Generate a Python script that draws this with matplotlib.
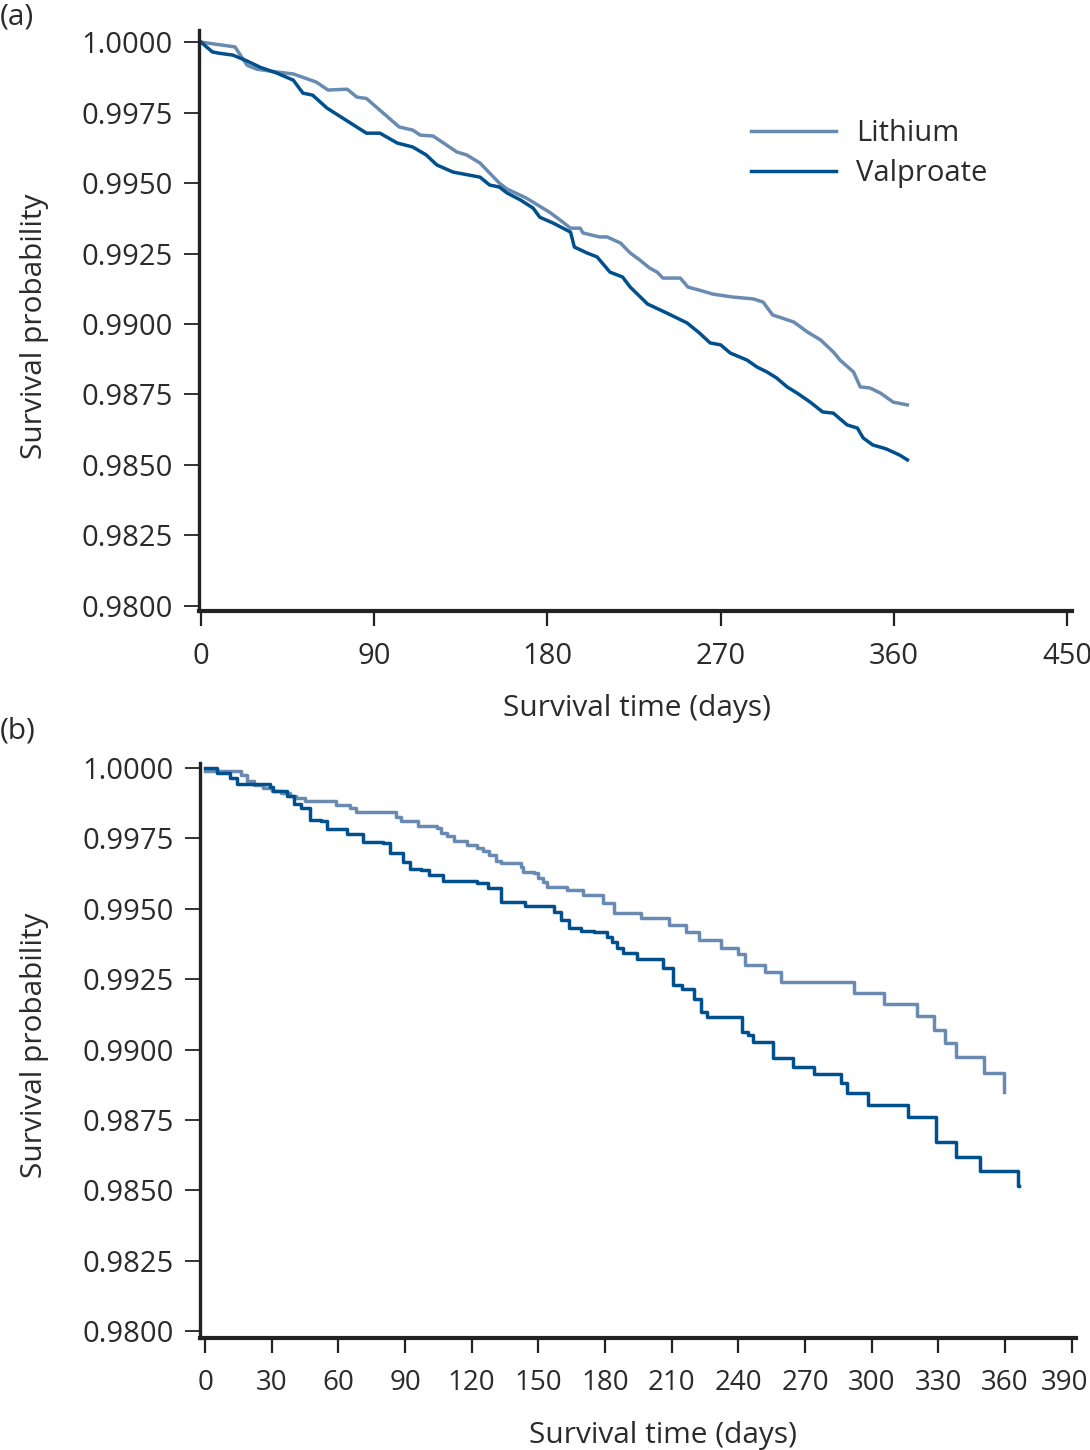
import matplotlib
matplotlib.use("Agg")
import matplotlib.pyplot as plt
import matplotlib.transforms as mtransforms
import numpy as np

# ---------------- data ----------------
# Panel (a)
a_lith_t = [0, 17.7, 24, 29, 39.5, 48, 60, 66, 76, 81, 86, 103, 110, 114, 120.6, 133, 138, 145, 155,
            159, 169, 181, 186.6, 192, 197, 198.5, 207, 211, 218, 223, 228, 233, 237, 240, 249, 253,
            259, 266, 276, 287, 292, 297, 302, 308, 315, 322, 328.5, 332, 339, 342.5, 347.6, 353,
            359.6, 367]
a_lith_s = [1.0, 0.99983, 0.99918, 0.99904, 0.99894, 0.99887, 0.99858, 0.99830, 0.99833, 0.99805,
            0.99800, 0.99699, 0.99688, 0.99670, 0.99667, 0.99610, 0.99600, 0.99571, 0.99500,
            0.99479, 0.99447, 0.99397, 0.99369, 0.99340, 0.99340, 0.99323, 0.99309, 0.99309,
            0.99287, 0.99252, 0.99227, 0.99199, 0.99184, 0.99163, 0.99163, 0.99131, 0.99120,
            0.99106, 0.99096, 0.99089, 0.99078, 0.99032, 0.99021, 0.99007, 0.98972, 0.98943,
            0.98901, 0.98872, 0.98830, 0.98777, 0.98773, 0.98755, 0.98723, 0.98713]

a_valp_t = [0, 6, 10, 16.6, 24, 30.7, 39.5, 48, 53, 58, 65.5, 77, 86, 93, 102, 110, 117, 122.6, 131,
            145, 150, 155, 159, 166, 172.6, 176, 183, 192, 194, 200.6, 205.8, 212.5, 219, 223, 232,
            242, 252.5, 259, 264.5, 270, 275, 283.7, 289, 294, 299, 304.5, 309.7, 316.5, 323,
            328.5, 335.7, 341, 344, 349, 356, 363, 367]
a_valp_s = [1.0, 0.99965, 0.99960, 0.99954, 0.99933, 0.99911, 0.99890, 0.99865, 0.99819, 0.99812,
            0.99766, 0.99716, 0.99677, 0.99677, 0.99642, 0.99628, 0.99600, 0.99564, 0.99539,
            0.99521, 0.99493, 0.99486, 0.99465, 0.99440, 0.99411, 0.99379, 0.99358, 0.99326,
            0.99273, 0.99252, 0.99238, 0.99184, 0.99167, 0.99131, 0.99071, 0.99039, 0.99004,
            0.98968, 0.98933, 0.98926, 0.98897, 0.98872, 0.98847, 0.98830, 0.98809, 0.98777,
            0.98755, 0.98723, 0.98688, 0.98684, 0.98642, 0.98631, 0.98596, 0.98571, 0.98557,
            0.98535, 0.98518]

# Panel (b)
b_lith_t = [0, 16, 19, 22, 26, 30, 34, 38, 41, 45, 59, 65, 68, 86, 88, 96, 104.5, 106, 109, 112,
            118, 122.5, 125, 128, 131, 133, 142, 143, 148, 150, 152, 154, 163, 170, 179, 184,
            196.3, 209, 216.6, 222.5, 232, 240, 243, 252, 259, 292, 305.5, 320.6, 328.3, 333,
            337.8, 350.4, 359.4, 359.7]
b_lith_s = [0.99990, 0.99975, 0.99955, 0.99940, 0.99928, 0.99920, 0.99912, 0.99902, 0.99892,
            0.99883, 0.99868, 0.99858, 0.99844, 0.99826, 0.99812, 0.99794, 0.99787, 0.99770,
            0.99760, 0.99741, 0.99726, 0.99716, 0.99705, 0.99690, 0.99670, 0.99662, 0.99648,
            0.99631, 0.99627, 0.99610, 0.99595, 0.99577, 0.99567, 0.99549, 0.99520, 0.99485,
            0.99467, 0.99442, 0.99417, 0.99389, 0.99361, 0.99340, 0.99300, 0.99275, 0.99240,
            0.99200, 0.99162, 0.99119, 0.99069, 0.99023, 0.98973, 0.98917, 0.98849, 0.98849]

b_valp_t = [0, 5.4, 11, 14.4, 29, 30.6, 37, 40, 43, 47, 52, 55, 64, 71, 80, 83, 89, 92, 97, 101,
            107, 122.5, 127.5, 133, 144, 157, 160, 164, 169, 175, 181, 183, 185.5, 188, 194.5,
            206, 210.8, 214.8, 220, 223, 226, 241.5, 244.5, 246.6, 255.7, 264.4, 274, 286, 289,
            298.6, 316.2, 329, 337.8, 349, 366, 366.3]
b_valp_s = [1.0, 0.99982, 0.99964, 0.99943, 0.99933, 0.99918, 0.99900, 0.99872, 0.99858, 0.99815,
            0.99812, 0.99783, 0.99766, 0.99738, 0.99734, 0.99698, 0.99666, 0.99641, 0.99638,
            0.99620, 0.99599, 0.99591, 0.99574, 0.99524, 0.99510, 0.99490, 0.99460, 0.99432,
            0.99421, 0.99417, 0.99400, 0.99382, 0.99360, 0.99343, 0.99321, 0.99289, 0.99229,
            0.99215, 0.99179, 0.99133, 0.99116, 0.99062, 0.99051, 0.99027, 0.98970, 0.98938,
            0.98913, 0.98881, 0.98845, 0.98803, 0.98760, 0.98671, 0.98618, 0.98570, 0.98515,
            0.98515]

series_labels = ["Lithium", "Valproate"]
yticks = [0.9800, 0.9825, 0.9850, 0.9875, 0.9900, 0.9925, 0.9950, 0.9975, 1.0000]
a_xticks = [0, 90, 180, 270, 360, 450]
b_xticks = list(range(0, 391, 30))

# ---------------- style ----------------
plt.rcParams['font.family'] = ['Open Sans', 'DejaVu Sans']
TXT = '#2b2b2b'
C_LITH = '#6a8bb1'
C_VALP = '#00508e'
FS_TICK = 21
FS_LAB = 21.5

fig = plt.figure(figsize=(10.9, 14.5), dpi=100)
W, H = 1090, 1450


def make_ax(left, right, top, bottom):
    return fig.add_axes([left / W, 1 - bottom / H, (right - left) / W, (bottom - top) / H])


def style(ax, xticks, xfs):
    for s in ['top', 'right']:
        ax.spines[s].set_visible(False)
    ax.spines['left'].set_linewidth(2.4)
    ax.spines['bottom'].set_linewidth(3.0)
    ax.spines['left'].set_color('#222222')
    ax.spines['bottom'].set_color('#222222')
    ax.set_yticks(yticks)
    ax.set_yticklabels([f"{v:.4f}" for v in yticks])
    ax.set_xticks(xticks)
    ax.set_xticklabels([str(v) for v in xticks])
    ax.tick_params(axis='y', direction='out', length=11, width=1.3, color='#222222',
                   labelsize=FS_TICK, labelcolor=TXT, pad=8)
    ax.tick_params(axis='x', direction='out', length=11, width=1.6, color='#222222',
                   labelsize=xfs, labelcolor=TXT, pad=11)
    ax.set_ylabel("Survival probability", fontsize=FS_LAB, color=TXT)
    ax.set_xlabel("Survival time (days)", fontsize=FS_LAB, color=TXT, va='top')


# Panel (a)
ax1 = make_ax(199, 1072, 30, 611)
ax1.plot(a_lith_t, a_lith_s, color=C_LITH, lw=2.5, label=series_labels[0], solid_joinstyle='round')
ax1.plot(a_valp_t, a_valp_s, color=C_VALP, lw=2.5, label=series_labels[1], solid_joinstyle='round')
ax1.set_xlim(-1.0, 452.5)
ax1.set_ylim(0.97982, 1.00043)
style(ax1, a_xticks, FS_TICK)
ax1.yaxis.set_label_coords(-0.172, 0.49)
ax1.xaxis.set_label_coords(0.502, -0.143)
leg = ax1.legend(loc='upper left', bbox_to_anchor=((751 - 199) / 873, (611 - 119) / 581),
                 frameon=False, fontsize=21, handlelength=2.9, handletextpad=0.7,
                 labelspacing=0.37, borderpad=0, borderaxespad=0)
for t in leg.get_texts():
    t.set_color(TXT)

# Panel (b)
ax2 = make_ax(200, 1076, 763, 1338)
ax2.plot(b_lith_t, b_lith_s, color=C_LITH, lw=2.5, drawstyle='steps-post')
ax2.plot(b_valp_t, b_valp_s, color=C_VALP, lw=2.5, drawstyle='steps-post')
ax2.set_xlim(-2.3, 392.0)
ax2.set_ylim(0.97975, 1.00018)
style(ax2, b_xticks, 20)
ax2.yaxis.set_label_coords(-0.172, 0.51)
ax2.xaxis.set_label_coords(0.528, -0.144)
# nudge the last tick label slightly left so it stays inside the figure
last_lbl = ax2.get_xticklabels()[-1]
last_lbl.set_transform(last_lbl.get_transform() +
                       mtransforms.ScaledTranslation(-7 / 100, 0, fig.dpi_scale_trans))

fig.text(0.0, 1 - 17 / H, "(a)", fontsize=FS_LAB, color=TXT, ha='left', va='center')
fig.text(0.0, 1 - 731 / H, "(b)", fontsize=FS_LAB, color=TXT, ha='left', va='center')

fig.savefig("out.png", dpi=100)
